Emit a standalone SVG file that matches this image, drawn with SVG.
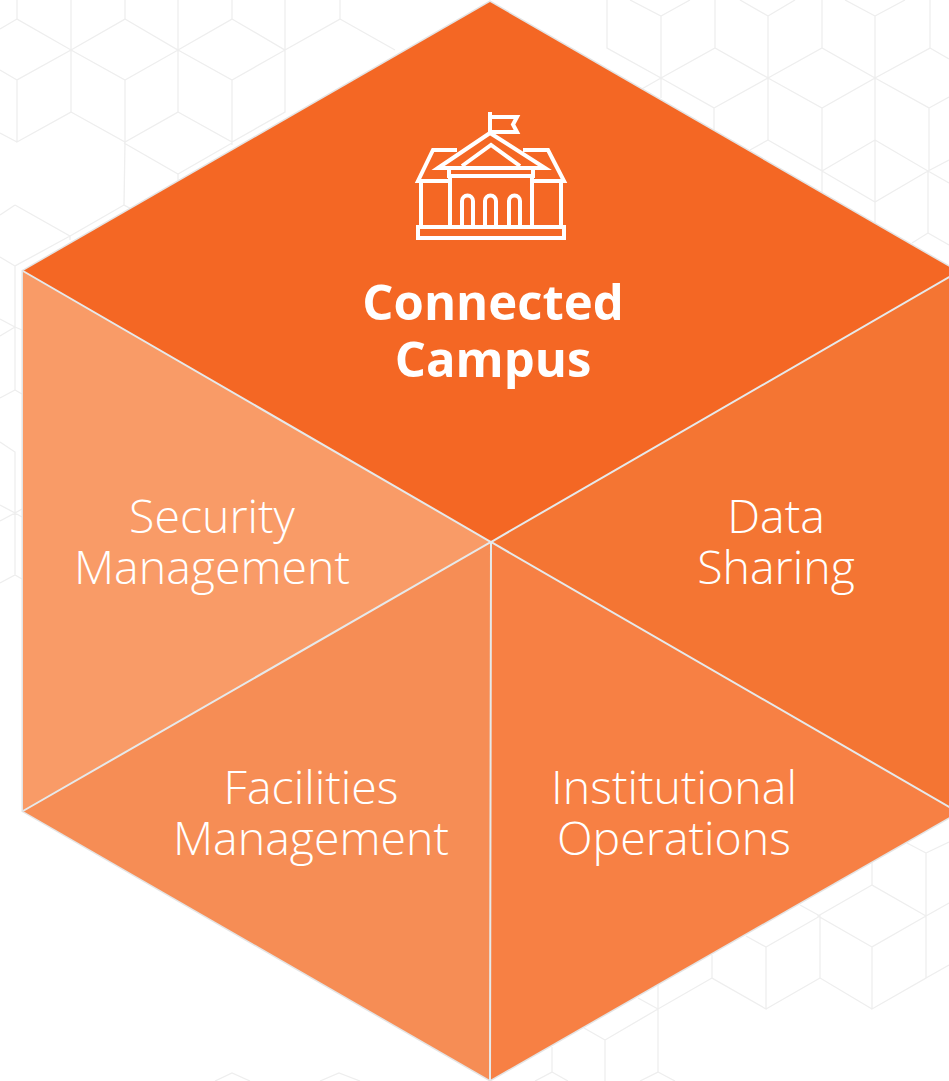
<svg xmlns="http://www.w3.org/2000/svg" width="949" height="1081" viewBox="0 0 949 1081">
<style>
.bg{fill:none;stroke:#eeeeee;stroke-width:1.3}
.f{stroke:#e6e9ea;stroke-width:2;fill:none}
.d{stroke:#e4e4e4;stroke-width:3;fill:none}
text{font-family:"Open Sans","Noto Sans","Liberation Sans",sans-serif;fill:#fff;text-anchor:middle}
.l{font-size:46.500px;font-weight:300}
.b{font-size:49px;font-weight:700}
.i{fill:none;stroke:#fff;stroke-width:4}
</style>
<rect width="949" height="1081" fill="#fff"/>
<g id="background" class="bg">
<path d="M17 0V19L71 50V0M71 50L125 19V0M125 19L178 50V0M178 50L232 19V0M232 19L285 50V0M285 50L340 19V0M340 19L395 50M17 19L0 29M71 50L17 80V142L71 112V50M71 50L125 80L178 50V112L125 142L71 112M125 80V142M178 50L232 80L285 50V112L232 142L178 112M232 80V145M17 80L0 70M17 142L0 133M125 142L124 205L139 213M124 143L178 174L232 143M178 174V180M15 205L70 236L124 205M0 215L15 205M70 236V240M70 236L15 266V390M15 266L0 257M15 327L22 330M15 327L0 319M15 327L0 336M15 390L0 398M15 390L22 394M0 442L15 452V575M0 505L15 513L0 521M22 509L15 513L22 517M0 583L15 575L22 579"/>
<path d="M607 0V48L661 78M661 16V78M630 0L661 16L690 0M661 78V98M661 78L640 90M661 78L714 108V130M714 108L768 78L715 48L661 78M715 0V48M768 16V140M768 16L740 0M768 16L795 0M768 140L750 150M768 140L822 171V193M822 108V171M768 78L822 108L875 78L822 48L768 78M822 0V48M875 16V223M875 16L845 0M875 16L905 0M875 78L929 108V171M929 108L949 97M875 140L822 171M875 140L928 171V233L912 243M822 171L875 202L928 171M928 171L949 160M928 171L949 183M928 233L949 245M930 0V48L875 78M930 48L949 59"/>
<path d="M926 853V978L872 1009V947L926 916M926 853L949 842M926 853L907 843M872 860V885L926 916M872 885L818 916L872 947M872 1009L820 978V916L766 947L746 936M820 916L800 905M766 947V1009L712 978V955M820 978L766 1009M926 978L949 965M926 916L949 903M712 978L658 1009V985M658 1009L638 998M658 1009V1072L640 1081M658 1072L675 1081M658 1009L605 1040V1081M605 1040L584 1028M552 1047V1072L535 1081M552 1072L568 1081"/>
<path d="M215 1081L232 1073L250 1081M320 1081L339 1073L360 1081"/>
</g>
<g id="connectors">
<path class="d" d="M958 812L490 1080L23 811V271L490 2L958 272"/>
</g>
<g id="seg-left"><path fill="#F99B67" d="M491 542L23 271V811Z"/></g>
<g id="seg-bottom-left"><path fill="#F68D55" d="M491 542L23 811L490 1080Z"/></g>
<g id="seg-bottom-right"><path fill="#F78044" d="M491 542L490 1080L958 812Z"/></g>
<g id="seg-right"><path fill="#F47533" d="M491 542L958 812V272Z"/></g>
<g id="seg-top"><path fill="#F46724" d="M491 542L23 271L490 2L958 272Z"/></g>
<g id="dividers" class="f"><path d="M23 271L491 542L958 272M23 811L491 542L958 812M491 542L490 1080"/></g>
<g id="node-top">
<g class="i">
<path d="M490 133V112M492 117H517L513 124.500L517 132H492"/>
<path d="M438 168L490 133L545 168ZM462 166L491 145L520 166"/>
<path d="M449 168V176H533V168M448 176H533"/>
<path d="M457 150H433L418 181H449M523 150H548L564 181H533"/>
<path d="M421 181V227M450 176V227M532 176V227M561 181V227"/>
<path d="M418 227H564V238H418Z"/>
<path d="M462 226V201A5.500 5.500 0 0 1 473 201V226M485 226V201A5.500 5.500 0 0 1 496 201V226M509 226V201A5.500 5.500 0 0 1 520 201V226"/>
</g>
<text class="b" x="493" y="320">Connected</text>
<text class="b" x="493" y="377">Campus</text>
</g>
<g id="node-security"><text class="l" x="212" y="533">Security</text><text class="l" x="212" y="584">Management</text></g>
<g id="node-data"><text class="l" x="776" y="533">Data</text><text class="l" x="776" y="584">Sharing</text></g>
<g id="node-facilities"><text class="l" x="311" y="804">Facilities</text><text class="l" x="311" y="855">Management</text></g>
<g id="node-institutional"><text class="l" x="674" y="804">Institutional</text><text class="l" x="674" y="855">Operations</text></g>
</svg>
